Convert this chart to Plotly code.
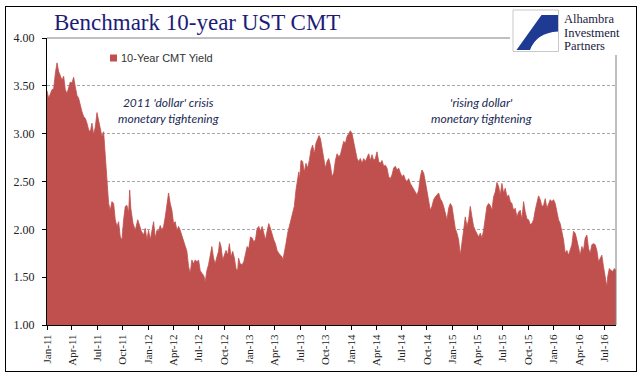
import pandas as pd
import plotly.graph_objects as go

# ---- data ----
base_date = "2011-01-01"
days_since_2011 = [
    0, 6, 18, 24, 30, 36, 42, 48, 54, 60, 66, 72, 78, 84, 90, 96, 102, 108, 114, 120,
    126, 132, 138, 144, 150, 156, 162, 168, 174, 180, 186, 192, 198, 204, 210, 216, 222, 228, 234, 240,
    246, 252, 258, 264, 270, 276, 282, 288, 294, 298, 302, 310, 318, 327, 334, 340, 348, 354, 360, 366,
    372, 378, 384, 390, 396, 402, 408, 414, 420, 426, 432, 438, 444, 450, 456, 462, 468, 474,
    480, 492, 504, 510, 516, 522, 528, 534, 540, 546, 552, 558, 564, 570, 576, 582, 588, 594,
    600, 606, 612, 618, 622, 627, 633, 639, 645, 651, 657, 663, 669, 675, 681, 687, 690, 696,
    703, 709, 715, 721, 727, 733, 739, 745, 751, 757, 763, 769, 775, 781, 787, 793, 799, 805,
    811, 817, 823, 829, 835, 841, 847, 850, 855, 861, 867, 873, 879, 885, 891, 897, 903, 907,
    910, 915, 921, 927, 933, 939, 945, 951, 957, 963, 969, 975, 980, 985,
    991, 997, 1003, 1009, 1015, 1021, 1027, 1033, 1039, 1045, 1051, 1057, 1063, 1069, 1075, 1081,
    1087, 1093, 1099, 1105, 1111, 1117, 1123, 1129, 1135, 1141, 1147, 1153, 1159, 1165, 1171, 1177,
    1183, 1189, 1195, 1201, 1207, 1213, 1219, 1225, 1231, 1237, 1243, 1249, 1255, 1261, 1267, 1273,
    1279, 1285, 1291, 1297, 1303, 1309, 1315, 1321, 1327, 1333, 1339, 1345, 1351, 1357, 1363, 1369,
    1375, 1381, 1387, 1393, 1399, 1405, 1411, 1417, 1423, 1429, 1435, 1441, 1447, 1453, 1459, 1465,
    1471, 1477, 1483, 1489,
    1495, 1501, 1507, 1513, 1519, 1525, 1531, 1537, 1543, 1549, 1555, 1561, 1567, 1573, 1579, 1585,
    1591, 1597, 1603, 1609, 1615, 1621, 1627, 1633, 1639, 1645, 1651, 1657, 1663, 1669, 1675, 1681,
    1687, 1693, 1699, 1705, 1711, 1717, 1723, 1729, 1735, 1741, 1747, 1753, 1759, 1765, 1771, 1777,
    1783, 1789, 1795, 1801, 1807, 1813, 1819, 1825, 1831, 1837, 1843, 1849, 1855, 1861, 1867, 1873,
    1879, 1885, 1891, 1897, 1903, 1909, 1915, 1921, 1927, 1933, 1939, 1945, 1951, 1957, 1963, 1969,
    1975, 1981, 1987, 1993, 1999, 2005, 2011, 2017, 2021, 2026, 2032, 2038, 2044, 2050,
]
yields = [
    3.45, 3.37, 3.46, 3.47, 3.63, 3.74, 3.65, 3.61, 3.56, 3.60, 3.46, 3.42, 3.49, 3.54, 3.53, 3.59, 3.49, 3.40, 3.37, 3.28,
    3.23, 3.18, 3.16, 3.11, 3.04, 3.02, 3.11, 2.99, 3.07, 3.22, 3.14, 3.04, 2.97, 3.02, 2.79, 2.52, 2.27, 2.20, 2.29, 2.27,
    2.10, 2.03, 2.08, 1.92, 1.89, 2.10, 2.24, 2.25, 2.17, 2.41, 2.22, 2.06, 1.99, 2.10, 2.03, 1.98, 1.94, 2.01, 1.89, 1.99,
    1.89, 1.99, 2.08, 1.91, 1.99, 1.98, 2.04, 1.99, 2.03, 2.13, 2.24, 2.38, 2.27, 2.20, 2.06, 2.08, 1.99, 2.03,
    1.99, 1.89, 1.77, 1.61, 1.54, 1.68, 1.64, 1.68, 1.66, 1.68, 1.57, 1.54, 1.52, 1.45, 1.57, 1.63, 1.71, 1.82,
    1.70, 1.64, 1.71, 1.77, 1.87, 1.82, 1.68, 1.73, 1.78, 1.73, 1.85, 1.71, 1.77, 1.70, 1.59, 1.57, 1.70, 1.64,
    1.63, 1.66, 1.75, 1.82, 1.80, 1.92, 1.91, 1.87, 1.89, 2.01, 2.03, 1.98, 2.03, 1.96, 1.89, 1.98, 2.06, 2.01,
    1.94, 1.89, 1.85, 1.78, 1.75, 1.73, 1.71, 1.68, 1.75, 1.85, 1.96, 2.03, 2.13, 2.17, 2.24, 2.41, 2.55, 2.60,
    2.52, 2.72, 2.71, 2.60, 2.69, 2.64, 2.72, 2.83, 2.88, 2.79, 2.90, 2.95, 2.98, 2.95,
    2.83, 2.74, 2.64, 2.71, 2.74, 2.67, 2.55, 2.59, 2.72, 2.79, 2.76, 2.78, 2.86, 2.92, 2.90, 2.97,
    3.00, 3.03, 3.00, 2.90, 2.83, 2.74, 2.71, 2.74, 2.69, 2.74, 2.71, 2.76, 2.79, 2.72, 2.78, 2.72,
    2.74, 2.81, 2.71, 2.69, 2.72, 2.66, 2.67, 2.64, 2.55, 2.53, 2.57, 2.64, 2.66, 2.62, 2.64, 2.59,
    2.55, 2.57, 2.52, 2.50, 2.53, 2.48, 2.45, 2.41, 2.39, 2.36, 2.41, 2.55, 2.62, 2.59, 2.50, 2.41,
    2.32, 2.20, 2.24, 2.31, 2.34, 2.36, 2.38, 2.32, 2.29, 2.24, 2.15, 2.10, 2.22, 2.27, 2.24, 2.11,
    2.01, 1.96, 1.89, 1.73,
    1.89, 1.99, 2.13, 2.03, 2.10, 2.24, 2.13, 2.03, 1.99, 1.96, 1.92, 1.96, 1.91, 1.99, 2.13, 2.24,
    2.27, 2.25, 2.20, 2.34, 2.39, 2.49, 2.45, 2.36, 2.48, 2.38, 2.43, 2.34, 2.36, 2.29, 2.27, 2.20,
    2.22, 2.13, 2.18, 2.20, 2.10, 2.29, 2.18, 2.11, 2.10, 2.05, 2.06, 2.10, 2.20, 2.29, 2.35, 2.31,
    2.24, 2.25, 2.32, 2.22, 2.27, 2.31, 2.29, 2.31, 2.27, 2.18, 2.10, 2.06, 1.99, 1.89, 1.75, 1.78,
    1.73, 1.78, 1.84, 1.98, 1.96, 1.89, 1.80, 1.73, 1.82, 1.78, 1.91, 1.94, 1.80, 1.75, 1.84, 1.85,
    1.84, 1.78, 1.66, 1.70, 1.73, 1.61, 1.52, 1.40, 1.52, 1.59, 1.57, 1.56, 1.59, 1.57,
]
series_name = "10-Year CMT Yield"
y_ticks = [1.00, 1.50, 2.00, 2.50, 3.00, 3.50, 4.00]
title_text = "Benchmark 10-year UST CMT"
note_left = "2011 'dollar' crisis<br>monetary tightening"
note_right = "'rising dollar'<br>monetary tightening"
logo_lines = ["Alhambra", "Investment", "Partners"]

dates = pd.Timestamp(base_date) + pd.to_timedelta(days_since_2011, unit="D")

# ---- layout geometry (pixels) ----
W, H = 644, 381
ML, MR, MT, MB = 47, 28, 38, 56
PW, PH = W - ML - MR, H - MT - MB


def px(x):
    return (x - ML) / PW


def py(y):
    return (H - MB - y) / PH


RED = "#c0504d"
NAVY = "#1c1c78"

fig = go.Figure()
fig.add_trace(go.Scatter(
    x=dates, y=yields, mode="lines", fill="tozeroy",
    line=dict(color=RED, width=0.8), fillcolor=RED,
    name=series_name, showlegend=False, hoverinfo="x+y",
))

shapes = [
    # plot area top / right border
    dict(type="line", xref="paper", yref="paper", x0=0, x1=1, y0=1, y1=1,
         line=dict(color="#808080", width=1), layer="above"),
    dict(type="line", xref="paper", yref="paper", x0=1, x1=1, y0=0, y1=1,
         line=dict(color="#808080", width=1), layer="above"),
    # logo background
    dict(type="rect", xref="paper", yref="paper", x0=px(510), x1=px(635), y0=py(55), y1=py(8),
         line=dict(width=0), fillcolor="#ffffff", layer="above"),
    # logo square
    dict(type="rect", xref="paper", yref="paper", x0=px(513), x1=px(558.5), y0=py(51.5), y1=py(10),
         line=dict(color="#c8c8c8", width=1), fillcolor="#ffffff", layer="above"),
    # legend swatch
    dict(type="rect", xref="paper", yref="paper", x0=px(110), x1=px(117), y0=py(61.5), y1=py(54.5),
         line=dict(width=0), fillcolor=RED, layer="above"),
]

# logo blue swoosh (path in paper coords)
path = (f"M {px(541.5)},{py(15)} L {px(558)},{py(15)} L {px(558)},{py(31.5)} "
        f"Q {px(536)},{py(33)} {px(530)},{py(50)} "
        f"L {px(516.5)},{py(50)} Z")
shapes.append(dict(type="path", xref="paper", yref="paper", path=path,
                   line=dict(width=0), fillcolor="#1f3a93", layer="above"))

annotations = [
    dict(text=title_text, xref="paper", yref="paper", x=px(52), y=py(22),
         xanchor="left", yanchor="middle", showarrow=False,
         font=dict(family="Liberation Serif, serif", size=23, color=NAVY)),
    dict(text=series_name, xref="paper", yref="paper", x=px(119), y=py(58),
         xanchor="left", yanchor="middle", showarrow=False,
         font=dict(family="Liberation Sans, Arial, sans-serif", size=11, color="#333333")),
    dict(text=f"<i>{note_left}</i>", xref="paper", yref="paper", x=px(168), y=py(110),
         xanchor="center", yanchor="middle", showarrow=False, align="center",
         font=dict(family="Lato, sans-serif", size=12, color="#1a2a55")),
    dict(text=f"<i>{note_right}</i>", xref="paper", yref="paper", x=px(481), y=py(110),
         xanchor="center", yanchor="middle", showarrow=False, align="center",
         font=dict(family="Lato, sans-serif", size=12, color="#1a2a55")),
]
for i, line in enumerate(logo_lines):
    annotations.append(dict(text=line, xref="paper", yref="paper", x=px(562), y=py(19 + 13.6 * i),
                            xanchor="left", yanchor="middle", showarrow=False,
                            font=dict(family="Liberation Serif, serif", size=12.5, color="#1a1a40")))

fig.update_layout(
    width=W, height=H,
    margin=dict(l=ML, r=MR, t=MT, b=MB, pad=0),
    paper_bgcolor="#ffffff", plot_bgcolor="#ffffff",
    showlegend=False,
    shapes=shapes, annotations=annotations,
    xaxis=dict(
        type="date",
        range=[dates[0], dates[-1]],
        tick0=base_date, dtick="M3", tickformat="%b-%y", tickangle=-90,
        ticks="outside", ticklen=4, tickcolor="#000000", tickwidth=1,
        showline=True, linecolor="#000000", linewidth=1.2,
        showgrid=False, zeroline=False,
        tickfont=dict(family="Liberation Serif, serif", size=11, color="#222222"),
    ),
    yaxis=dict(
        range=[1, 4], tickvals=y_ticks, tickformat=".2f",
        ticks="outside", ticklen=4, tickcolor="#000000", tickwidth=1,
        showline=True, linecolor="#000000", linewidth=1.2,
        showgrid=True, gridcolor="#a6a6a6", griddash="3px,2px", gridwidth=1,
        zeroline=False, ticklabelstandoff=5,
        tickfont=dict(family="Liberation Serif, serif", size=12, color="#222222"),
    ),
)

# page tweaks: no body margin, and the thin black frame around the whole chart
post_js = (
    "document.body.style.margin='0';"
    "var f=document.createElement('div');"
    "f.style.cssText='position:absolute;left:5px;top:6px;width:632px;height:366px;"
    "border:1.5px solid #000;box-sizing:border-box;pointer-events:none;z-index:10;';"
    "document.body.appendChild(f);"
)
fig.write_html("out.html", config={"displayModeBar": False}, post_script=post_js)
